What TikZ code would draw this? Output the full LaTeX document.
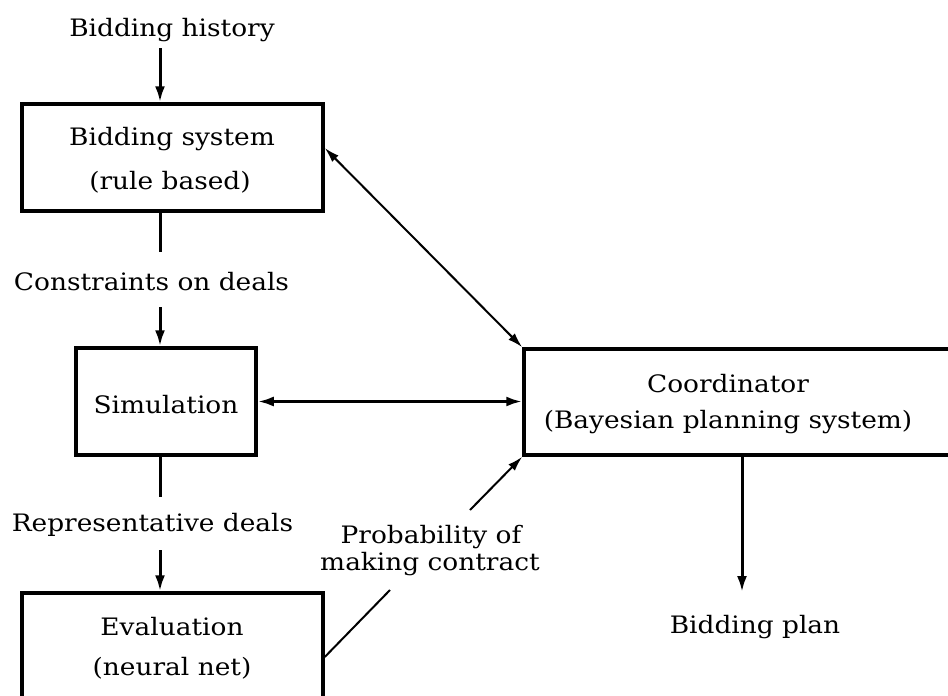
\documentclass[tikz,border=0pt]{standalone}
\usepackage{fontspec}
\setmainfont{DejaVu Serif}[FakeStretch=1.1]
\usetikzlibrary{arrows.meta}
\begin{document}
\begin{tikzpicture}[x=1pt,y=-1pt,
  box/.style={draw, line width=3.5pt, inner sep=0pt},
  txt/.style={anchor=base, inner sep=0pt, font=\fontsize{24}{28}\selectfont},
  arr/.style={line width=3pt, -{Latex[length=16pt,width=10pt]}},
  plainline/.style={line width=3pt},
  darr/.style={line width=3pt, {Latex[length=16pt,width=10pt]}-{Latex[length=16pt,width=10pt]}},
  thinline/.style={line width=2pt},
  thinarr/.style={line width=2pt, -{Latex[length=15pt,width=9pt]}},
  thindarr/.style={line width=2pt, {Latex[length=15pt,width=9pt]}-{Latex[length=15pt,width=9pt]}}]
\useasboundingbox (0,0) rectangle (948,696);
\clip (0,0) rectangle (948,696);
\fill[white] (0,0) rectangle (948,696);

% boxes
\node[box, minimum width=301pt, minimum height=107pt] (bs) at (172.5,157.5) {};
\node[box, minimum width=180pt, minimum height=107pt] (sim) at (166,401.5) {};
\node[box, minimum width=301pt, minimum height=108pt] (eval) at (172.5,647) {};
\node[box, minimum width=441pt, minimum height=106pt] (coord) at (744.5,402) {};

% texts
\node[txt] (hist) at (172,36) {Bidding history};
\node[txt] (bs1) at (172,145) {Bidding system};
\node[txt] (bs2) at (170,189) {(rule based)};
\node[txt] (cons) at (151.5,290) {Constraints on deals};
\node[txt] (sim1) at (166,413) {Simulation};
\node[txt] (rep) at (152.5,531) {Representative deals};
\node[txt] (ev1) at (172,635) {Evaluation};
\node[txt] (ev2) at (172,675) {(neural net)};
\node[txt] (prob1) at (431,543) {Probability of};
\node[txt] (prob2) at (430,570) {making contract};
\node[txt] (co1) at (728,392) {Coordinator};
\node[txt] (co2) at (728,428) {(Bayesian planning system)};
\node[txt] (plan) at (755,633) {Bidding plan};

% connectors
\coordinate (h1) at (160,48);
\draw[arr] (h1) -- (h1 |- bs.north);
\coordinate (c0) at (160,252);
\draw[plainline] (c0 |- bs.south) -- (c0);
\coordinate (c1) at (160,307);
\draw[arr] (c1) -- (c1 |- sim.north);
\coordinate (r0) at (160,497);
\draw[plainline] (r0 |- sim.south) -- (r0);
\coordinate (r1) at (160,550);
\draw[arr] (r1) -- (r1 |- eval.north);
\draw[darr] (sim.east) -- (sim.east -| coord.west);
\draw[thindarr] ([yshift=9.5pt]bs.east) -- (coord.north west);
\coordinate (p0) at (390,590);
\draw[thinline] ([yshift=-10pt]eval.east) -- (p0);
\coordinate (p1) at (470,510);
\draw[thinarr] (p1) -- (coord.south west);
\coordinate (b0) at (742,592);
\draw[arr] (b0 |- coord.south) -- (b0);
\end{tikzpicture}
\end{document}
